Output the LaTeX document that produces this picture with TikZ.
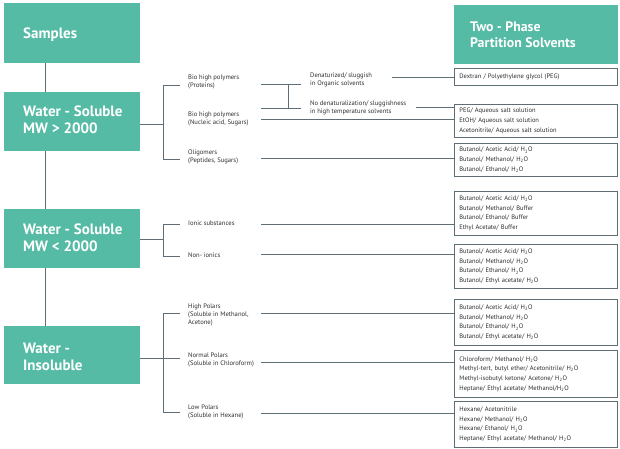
\documentclass[tikz,border=0pt]{standalone}
\usepackage{fontspec}
\setmainfont{PT Sans}
\definecolor{hdrteal}{HTML}{55BBA5}
\definecolor{lncol}{HTML}{5E6E74}
\definecolor{txtcol}{HTML}{2E2E2E}
\begin{document}
\begin{tikzpicture}[x=1pt,y=-1pt,
  hdr/.style={fill=hdrteal, draw=none, inner sep=0pt, anchor=north west},
  htext/.style={text=white, font=\bfseries\fontsize{15}{17}\selectfont, align=left, anchor=west, inner sep=0pt},
  sbox/.style={draw=lncol, line width=0.8pt, anchor=north west, minimum width=163pt, text width=153pt,
    inner xsep=5pt, inner ysep=0pt, align=left, font=\fontsize{6.5}{9.7}\selectfont, text=txtcol},
  mlab/.style={anchor=west, inner sep=0pt, align=left, font=\fontsize{6.6}{8}\selectfont, text=txtcol},
  ln/.style={draw=lncol, line width=0.7pt}]
\useasboundingbox (0,0) rectangle (620,448);
% left header boxes
\node[hdr, minimum width=136pt, minimum height=60pt] (samp) at (4,3) {};
\node[hdr, minimum width=136pt, minimum height=59pt] (ws1) at (4,92) {};
\node[hdr, minimum width=136pt, minimum height=59pt] (ws2) at (4,209) {};
\node[hdr, minimum width=136pt, minimum height=58pt] (ins) at (4,326) {};
\node[hdr, minimum width=164pt, minimum height=59pt] (tp) at (454,5) {};
\node[htext] (tsamp) at (23,35) {Samples};
\node[htext] (tws1) at (23,119.5) {Water - Soluble\\MW > 2000};
\node[htext] (tws2) at (23,237.5) {Water - Soluble\\MW < 2000};
\node[htext] (tins) at (23,357) {Water -\\Insoluble};
\node[htext, font=\bfseries\fontsize{13.8}{16}\selectfont] (ttp) at (470,35) {Two - Phase\\Partition Solvents};
% trunk
\draw[ln] ([xshift=41pt]samp.south west) -- ([xshift=41pt]ws1.north west);
\draw[ln] ([xshift=41pt]ws1.south west) -- ([xshift=41pt]ws2.north west);
\draw[ln] ([xshift=41pt]ws2.south west) -- ([xshift=41pt]ins.north west);
% right solvent boxes
\newcommand{\HtwoO}{H\textsubscript{2}O}
\node[sbox, minimum height=17pt] (r1) at (454,68) {Dextran / Polyethylene glycol (PEG)};
\node[sbox, minimum height=33pt] (r2) at (454,104) {PEG/ Aqueous salt solution\\EtOH/ Aqueous salt solution\\Acetonitrile/ Aqueous salt solution};
\node[sbox, minimum height=33pt] (r3) at (454,143) {Butanol/ Acetic Acid/ \HtwoO\\Butanol/ Methanol/ \HtwoO\\Butanol/ Ethanol/ \HtwoO};
\node[sbox, minimum height=44pt] (r4) at (454,191) {Butanol/ Acetic Acid/ \HtwoO\\Butanol/ Methanol/ Buffer\\Butanol/ Ethanol/ Buffer\\Ethyl Acetate/ Buffer};
\node[sbox, minimum height=44pt] (r5) at (454,244) {Butanol/ Acetic Acid/ \HtwoO\\Butanol/ Methanol/ \HtwoO\\Butanol/ Ethanol/ \HtwoO\\Butanol/ Ethyl acetate/ \HtwoO};
\node[sbox, minimum height=46pt] (r6) at (454,299) {Butanol/ Acetic Acid/ \HtwoO\\Butanol/ Methanol/ \HtwoO\\Butanol/ Ethanol/ \HtwoO\\Butanol/ Ethyl acetate/ \HtwoO};
\node[sbox, minimum height=47pt] (r7) at (454,350) {Chloroform/ Methanol/ \HtwoO\\Methyl-tert, butyl ether/ Acetonitrile/ \HtwoO\\Methyl-isobutyl ketone/ Acetone/ \HtwoO\\Heptane/ Ethyl acetate/ Methanol/\HtwoO};
\node[sbox, minimum height=46pt] (r8) at (454,401) {Hexane/ Acetonitrile\\Hexane/ Methanol/ \HtwoO\\Hexane/ Ethanol/ \HtwoO\\Heptane/ Ethyl acetate/ Methanol/ \HtwoO};
% branch 1
\coordinate (j1) at (163,124); \coordinate (j1t) at (163,85); \coordinate (j1b) at (163,159);
\draw[ln] (ws1.east |- j1) -- (j1);
\draw[ln] (j1t) -- (j1b);
\draw[ln] (j1t) -- ++(17,0);
\draw[ln] (j1b) -- ++(17,0);
\node[mlab] (p1) at (188,82) {Bio high polymers\\(Proteins)};
\node[mlab] (p2) at (188,119) {Bio high polymers\\(Nucleic acid, Sugars)};
\node[mlab] (p3) at (188,156.5) {Oligomers\\(Peptides, Sugars)};
\coordinate (q1) at (261,84); \coordinate (q2) at (261,108);
\draw[ln] (q1) -- ++(40,0);
\draw[ln] (q2) -- ++(40,0);
\draw[ln] ([xshift=27pt]q1) -- ([xshift=27pt]q2);
\node[mlab] (d1) at (310,80) {Denaturized/ sluggish\\in Organic solvents};
\node[mlab] (d2) at (310,107.5) {No denaturalization/ sluggishness\\in high temperature solvents};
\coordinate (e1) at (392,77); \draw[ln] (e1) -- (e1 -| r1.west);
\coordinate (e2) at (416,107); \draw[ln] (e2) -- (e2 -| r2.west);
\coordinate (f2) at (261,119); \draw[ln] (f2) -- (f2 -| r2.west);
\coordinate (f3) at (261,158); \draw[ln] (f3) -- (f3 -| r3.west);
% branch 2
\coordinate (j2) at (163,239); \coordinate (j2t) at (163,224); \coordinate (j2b) at (163,256);
\draw[ln] (ws2.east |- j2) -- (j2);
\draw[ln] (j2t) -- (j2b);
\draw[ln] (j2t) -- ++(17,0);
\draw[ln] (j2b) -- ++(17,0);
\node[mlab] (i1) at (188,223) {Ionic substances};
\node[mlab] (i2) at (188,255) {Non- ionics};
\coordinate (g1) at (261,224); \draw[ln] (g1) -- (g1 -| r4.west);
\coordinate (g2) at (261,254); \draw[ln] (g2) -- (g2 -| r5.west);
% branch 3
\coordinate (j3) at (163,358); \coordinate (j3t) at (163,313); \coordinate (j3b) at (163,412);
\draw[ln] (ins.east |- j3) -- (j3);
\draw[ln] (j3t) -- (j3b);
\draw[ln] (j3t) -- ++(17,0);
\draw[ln] (j3) -- ++(17,0);
\draw[ln] (j3b) -- ++(17,0);
\node[mlab] (h1) at (188,315) {High Polars\\(Soluble in Methanol,\\Acetone)};
\node[mlab] (h2) at (188,360) {Normal Polars\\(Soluble in Chloroform)};
\node[mlab] (h3) at (188,412) {Low Polars\\(Soluble in Hexane)};
\coordinate (k1) at (261,313); \draw[ln] (k1) -- (k1 -| r6.west);
\coordinate (k2) at (261,362); \draw[ln] (k2) -- (k2 -| r7.west);
\coordinate (k3) at (261,413); \draw[ln] (k3) -- (k3 -| r8.west);
\end{tikzpicture}
\end{document}
